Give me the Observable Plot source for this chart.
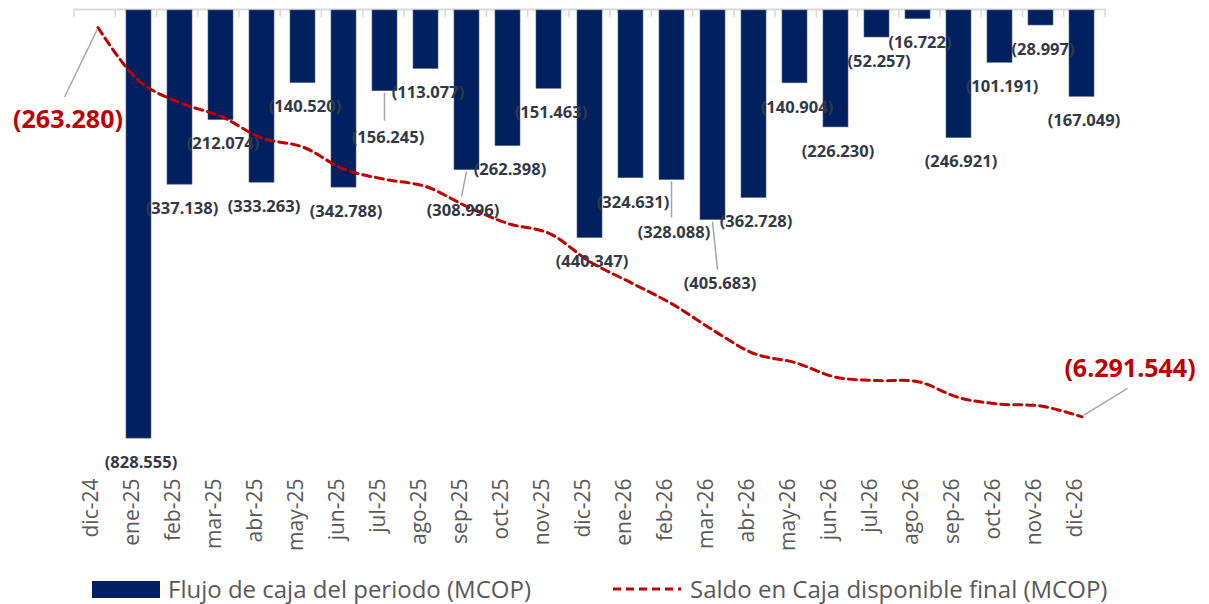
<!DOCTYPE html>
<html>
<head>
<meta charset="utf-8">
<script src="https://cdn.jsdelivr.net/npm/d3@7"></script>
<script src="https://cdn.jsdelivr.net/npm/@observablehq/plot@0.6"></script>
<style>
  body { margin: 0; background: #fff; font-family: "Open Sans", sans-serif; }
  #chart { position: relative; width: 1209px; height: 604px; }
  .legend { position: absolute; top: 574px; display: flex; align-items: center; font-size: 24px; color: #595959; line-height: 30px; height: 30px; white-space: nowrap; }
  .sw-bar { display: inline-block; width: 68px; height: 17px; background: #002060; margin-right: 8px; }
  .sw-line { margin-right: 8px; }
</style>
</head>
<body>
<div id="chart"></div>
<script>
// ---- data ----
const months = ["dic-24","ene-25","feb-25","mar-25","abr-25","may-25","jun-25","jul-25","ago-25","sep-25","oct-25","nov-25","dic-25",
                "ene-26","feb-26","mar-26","abr-26","may-26","jun-26","jul-26","ago-26","sep-26","oct-26","nov-26","dic-26"];
const flujoMonths = months.slice(1);
const flujo = [-828555,-337138,-212074,-333263,-140520,-342788,-156245,-113077,-308996,-262398,-151463,-440347,
               -324631,-328088,-405683,-362728,-140904,-226230,-52257,-16722,-246921,-101191,-28997,-167049];
const saldo = [-263280,-1091835,-1428973,-1641047,-1974310,-2114830,-2457618,-2613863,-2726940,-3035936,-3298334,-3449797,-3890144,
               -4214775,-4542863,-4948546,-5311274,-5452178,-5678408,-5730665,-5747387,-5994308,-6095499,-6124496,-6291544];
const seriesNames = ["Flujo de caja del periodo (MCOP)", "Saldo en Caja disponible final (MCOP)"];

// secondary (line) axis spans 8x the primary (bar) axis
const axisRatio = 8;

// labels moved away from the bar end, with a leader line (pixel nudges)
const movedLabels = [
  {month: "jul-25", dx: 3,  dy: 46, lx: 0,  ly: 28},
  {month: "sep-25", dx: -4, dy: 41, lx: -5, ly: 25},
  {month: "feb-26", dx: 2,  dy: 53, lx: 0,  ly: 36},
  {month: "mar-26", dx: 7,  dy: 64, lx: 5,  ly: 48}
];

const fmt = d3.formatLocale({decimal: ",", thousands: ".", grouping: [3], currency: ["$", ""]}).format(",.0f");
const paren = v => `(${fmt(Math.abs(v))})`;

const bars = flujoMonths.map((m, i) => ({month: m, value: flujo[i]}));
const line = months.map((m, i) => ({month: m, value: saldo[i]}));
const movedSet = new Set(movedLabels.map(d => d.month));

const NAVY = "#002060", RED = "#c00000", GREY = "#595959", LABEL = "#333a45";

function topTicks(index, scales) {
  const x = scales.x, y = scales.y;
  const [r0, r1] = x.range();
  const n = x.domain().length, step = (r1 - r0) / n;
  const y0 = y(0);
  const g = d3.create("svg:g").attr("stroke", "#d9d9d9").attr("stroke-width", 1.5);
  for (let i = 0; i <= n; i++) {
    const bx = r0 + i * step;
    g.append("line").attr("x1", bx).attr("x2", bx).attr("y1", y0 - 1).attr("y2", y0 + 7);
  }
  return g.node();
}

function leaderLines(index, scales) {
  const x = scales.x, y = scales.y, bw = x.bandwidth();
  const g = d3.create("svg:g").attr("stroke", "#a6a6a6").attr("stroke-width", 1.5).attr("fill", "none");
  for (const l of movedLabels) {
    const v = flujo[flujoMonths.indexOf(l.month)];
    const cx = x(l.month) + bw / 2, cy = y(v);
    g.append("line").attr("x1", cx).attr("y1", cy + 2).attr("x2", cx + l.lx).attr("y2", cy + 2 + l.ly);
  }
  // leader lines for the first and last cash balance callouts
  const first = line[0], last = line[line.length - 1];
  const fx = x(first.month) + bw / 2, fy = y(first.value / axisRatio);
  g.append("line").attr("x1", fx).attr("y1", fy + 2).attr("x2", fx - 33).attr("y2", fy + 70);
  const lx = x(last.month) + bw / 2, ly = y(last.value / axisRatio);
  g.append("line").attr("x1", lx + 2).attr("y1", ly - 1).attr("x2", lx + 46).attr("y2", ly - 28);
  return g.node();
}

const chart = Plot.plot({
  width: 1209,
  height: 572,
  marginTop: 10,
  marginBottom: 97,
  marginLeft: 74,
  marginRight: 104,
  style: {fontFamily: "'Open Sans', sans-serif", background: "white"},
  x: {domain: months, paddingInner: 0.38, paddingOuter: 0.19, axis: null},
  y: {domain: [-900000, 0], axis: null},
  marks: [
    topTicks,
    Plot.ruleY([0], {stroke: "#d9d9d9", strokeWidth: 2, dy: -1}),
    Plot.barY(bars, {x: "month", y: "value", fill: NAVY, stroke: "#51627f", strokeWidth: 0.6}),
    Plot.line(line, {x: "month", y: d => d.value / axisRatio, stroke: RED, strokeWidth: 3, strokeDasharray: "8,5", curve: "catmull-rom"}),
    Plot.text(bars.filter(d => !movedSet.has(d.month)), {x: "month", y: "value", text: d => paren(d.value), dy: 24, dx: 2,
      fill: LABEL, fontSize: 16.5, fontWeight: 700}),
    ...movedLabels.map(l => Plot.text(bars.filter(d => d.month === l.month), {x: "month", y: "value", text: d => paren(d.value),
      dx: l.dx, dy: l.dy, fill: LABEL, fontSize: 16.5, fontWeight: 700})),
    leaderLines,
    Plot.text([line[0]], {x: "month", y: d => d.value / axisRatio, text: d => paren(d.value), dx: -30, dy: 92,
      fill: RED, fontSize: 25, fontWeight: 700}),
    Plot.text([line[line.length - 1]], {x: "month", y: d => d.value / axisRatio, text: d => paren(d.value), dx: 48, dy: -48,
      fill: RED, fontSize: 25, fontWeight: 700}),
    Plot.text(months, {x: d => d, frameAnchor: "bottom", dy: 3, rotate: -90, textAnchor: "end", fontSize: 21, fill: GREY})
  ]
});

const root = document.getElementById("chart");
root.appendChild(chart);

const leg1 = document.createElement("div");
leg1.className = "legend";
leg1.style.left = "92px";
leg1.innerHTML = `<span class="sw-bar"></span><span>${seriesNames[0]}</span>`;
root.appendChild(leg1);

const leg2 = document.createElement("div");
leg2.className = "legend";
leg2.style.left = "612px";
leg2.innerHTML = `<svg class="sw-line" width="70" height="8"><line x1="1" y1="4" x2="69" y2="4" stroke="${RED}" stroke-width="3" stroke-dasharray="8,5"/></svg><span>${seriesNames[1]}</span>`;
root.appendChild(leg2);
</script>
</body>
</html>
